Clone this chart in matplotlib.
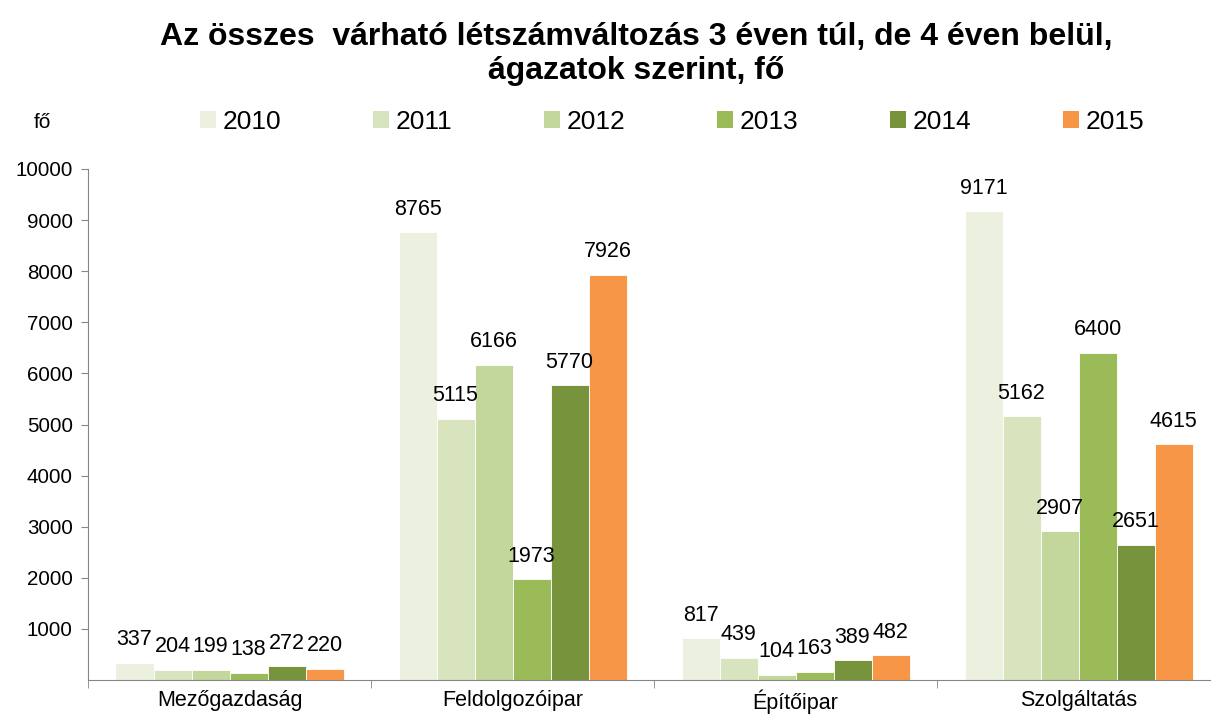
import numpy as np
import matplotlib.pyplot as plt
from matplotlib.patches import Patch

plt.rcParams['font.family'] = ['Liberation Sans', 'DejaVu Sans']

# Data
categories = ['Mezőgazdaság', 'Feldolgozóipar', 'Építőipar', 'Szolgáltatás']
years = ['2010', '2011', '2012', '2013', '2014', '2015']
values = {
    '2010': [337, 8765, 817, 9171],
    '2011': [204, 5115, 439, 5162],
    '2012': [199, 6166, 104, 2907],
    '2013': [138, 1973, 163, 6400],
    '2014': [272, 5770, 389, 2651],
    '2015': [220, 7926, 482, 4615],
}
colors = ['#EBF1DE', '#D7E4BD', '#C3D69B', '#9BBB59', '#77933C', '#F79646']
yticks = [1000, 2000, 3000, 4000, 5000, 6000, 7000, 8000, 9000, 10000]

fig = plt.figure(figsize=(12.11, 7.16), dpi=100)
ax = fig.add_axes([88 / 1211, 36 / 716, 4 * 283 / 1211, 511 / 716])

bw = 38 / 283
x = np.arange(len(categories))
for i, yr in enumerate(years):
    pos = x - 3 * bw + bw / 2 + i * bw
    bars = ax.bar(pos, values[yr], width=bw, color=colors[i], edgecolor='white', linewidth=0.6)
    for b, v in zip(bars, values[yr]):
        ax.annotate(str(v), (b.get_x() + b.get_width() / 2, v), xytext=(0, 9),
                    textcoords='offset points', ha='center', va='bottom', fontsize=15.5)

ax.set_xlim(-0.5, len(categories) - 0.5)
ax.set_ylim(0, 10000)
ax.set_yticks(yticks)
ax.tick_params(axis='y', labelsize=14.8, length=5, color='#868686', pad=6)
ax.set_xticks(x)
ax.set_xticklabels(categories, fontsize=15.5)
ax.set_xticks(np.arange(-0.5, len(categories), 1), minor=True)
ax.tick_params(axis='x', which='major', length=0, pad=7)
ax.tick_params(axis='x', which='minor', length=6, color='#868686')

for s in ['top', 'right']:
    ax.spines[s].set_visible(False)
for s in ['left', 'bottom']:
    ax.spines[s].set_color('#868686')

fig.text(636 / 1211, 1 - 54 / 716, 'Az összes  várható létszámváltozás 3 éven túl, de 4 éven belül,\nágazatok szerint, fő',
         ha='center', va='center', fontsize=23, fontweight='bold', linespacing=1.15)
fig.text(42 / 1211, 1 - 122 / 716, 'fő', ha='center', va='center', fontsize=15)

handles = [Patch(facecolor=c, edgecolor='none') for c in colors]
fig.legend(handles, years, loc='center', bbox_to_anchor=(672 / 1211, 1 - 122 / 716), ncol=6,
           frameon=False, fontsize=19, handlelength=0.6, handleheight=0.6,
           handletextpad=0.25, columnspacing=3.48)

fig.savefig('out.png', dpi=100)
